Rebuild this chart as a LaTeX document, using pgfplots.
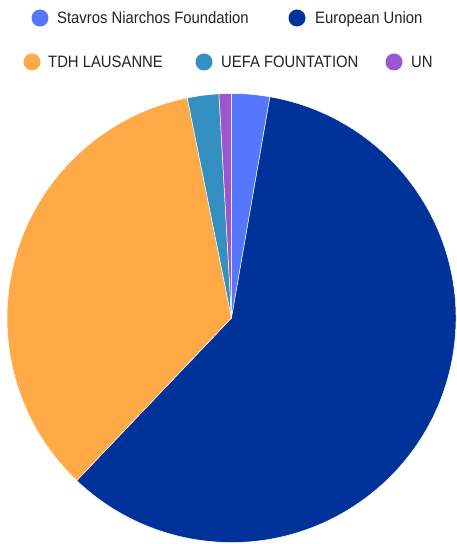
\documentclass[border=0pt]{standalone}
\usepackage{pgfplots}
\usepackage{pgfplotstable}
\pgfplotsset{compat=1.18}
\usepackage{fontspec}
\setmainfont[FakeStretch=0.9]{Liberation Sans}
\definecolor{pie0}{HTML}{5677FC}
\definecolor{pie1}{HTML}{003399}
\definecolor{pie2}{HTML}{FFAA47}
\definecolor{pie3}{HTML}{3590C2}
\definecolor{pie4}{HTML}{9A55D0}
\definecolor{legtext}{HTML}{222222}

\pgfplotstableread{
label value
Stavros 2.74
EU 59.37
TDH 34.73
UEFA 2.27
UN 0.88
}\piedata

\begin{document}%
\begin{tikzpicture}
\def\cum{0}
\foreach \i in {0,...,4}{%
  \pgfplotstablegetelem{\i}{value}\of\piedata
  \pgfmathsetmacro\s{90-3.6*\cum}%
  \pgfmathsetmacro\newcum{\cum+\pgfplotsretval}%
  \pgfmathsetmacro\e{90-3.6*\newcum}%
  \expandafter\xdef\csname pieS\i\endcsname{\s}%
  \expandafter\xdef\csname pieE\i\endcsname{\e}%
  \xdef\cum{\newcum}%
}
\begin{axis}[
  name=pie,
  scale only axis, width=456pt, height=544pt,
  xmin=0, xmax=456, ymin=0, ymax=544,
  hide axis, clip=false, xtick=\empty, ytick=\empty,
]
\path (axis cs:0,0) rectangle (axis cs:456,544);
\pgfplotsinvokeforeach{0,...,4}{%
  \fill[pie#1, draw=white, line width=0.5pt, line join=round]
    (axis cs:231.5,226) -- ++(\csname pieS#1\endcsname:224.5pt)
    arc[start angle=\csname pieS#1\endcsname, end angle=\csname pieE#1\endcsname, radius=224.5pt] -- cycle;
}
% legend
\fill[pie0] (axis cs:40,526) circle[radius=8.5pt];
\node[anchor=base west, inner sep=0, text=legtext, font=\fontsize{16.5}{18}\selectfont] at (axis cs:57,520) {Stavros Niarchos Foundation};
\fill[pie1] (axis cs:297,526) circle[radius=8.5pt];
\node[anchor=base west, inner sep=0, text=legtext, font=\fontsize{16.5}{18}\selectfont] at (axis cs:315,520) {European Union};
\fill[pie2] (axis cs:32,482) circle[radius=8.5pt];
\node[anchor=base west, inner sep=0, text=legtext, font=\fontsize{16.5}{18}\selectfont] at (axis cs:48,476) {TDH LAUSANNE};
\fill[pie3] (axis cs:204,482) circle[radius=8.5pt];
\node[anchor=base west, inner sep=0, text=legtext, font=\fontsize{16.5}{18}\selectfont] at (axis cs:221,476) {UEFA FOUNTATION};
\fill[pie4] (axis cs:394,482) circle[radius=8.5pt];
\node[anchor=base west, inner sep=0, text=legtext, font=\fontsize{16.5}{18}\selectfont] at (axis cs:411,476) {UN};
\end{axis}
\pgfresetboundingbox
\useasboundingbox (pie.south west) rectangle (pie.north east);
\end{tikzpicture}%
\end{document}
